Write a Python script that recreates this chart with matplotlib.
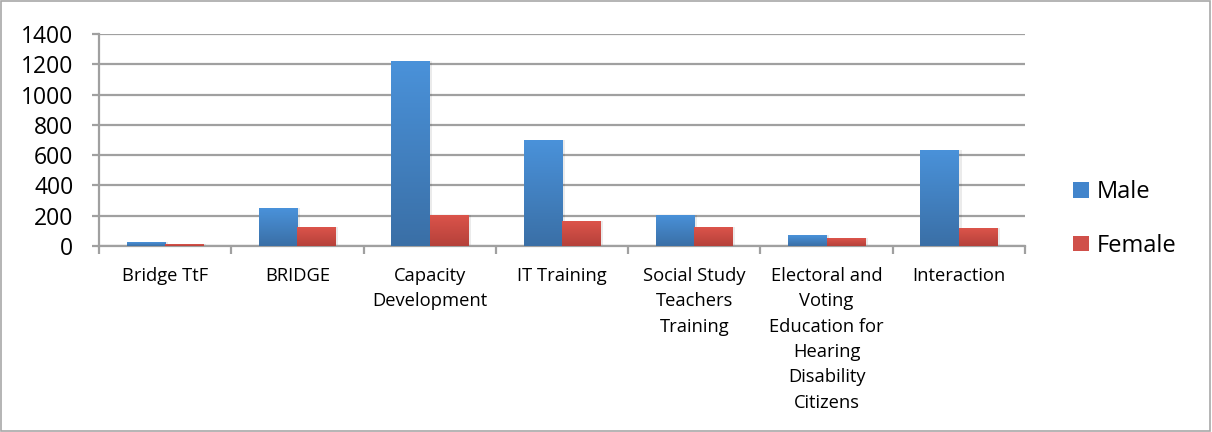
import matplotlib
matplotlib.use("Agg")
import matplotlib.pyplot as plt
import numpy as np
from matplotlib.colors import LinearSegmentedColormap
from matplotlib.patches import Rectangle, Patch

categories = ["Bridge TtF", "BRIDGE", "Capacity\nDevelopment", "IT Training",
              "Social Study\nTeachers\nTraining",
              "Electoral and\nVoting\nEducation for\nHearing\nDisability\nCitizens",
              "Interaction"]
male = [25, 250, 1225, 700, 205, 72, 635]
female = [12, 125, 205, 165, 125, 52, 118]
yticks = [0, 200, 400, 600, 800, 1000, 1200, 1400]

plt.rcParams['font.family'] = ['Open Sans', 'DejaVu Sans']

fig = plt.figure(figsize=(12.12, 4.32), dpi=100)
ax = fig.add_axes([99/1212, 1 - 246/432, (1025-99)/1212, (246-34)/432])

x = np.arange(len(categories))
w = 0.29
blue_cm = LinearSegmentedColormap.from_list("b", ["#3A6FA6", "#4A92DA"])
red_cm = LinearSegmentedColormap.from_list("r", ["#B5413A", "#DC544B"])
grad = np.linspace(0, 1, 256).reshape(-1, 1)

def gbar(xc, h, cmap):
    if h <= 0:
        return
    ax.add_patch(Rectangle((xc - w/2 + 0.02, 0), w, h, facecolor="#000000", alpha=0.08,
                           edgecolor="none", zorder=2))
    im = ax.imshow(grad, extent=(xc - w/2, xc + w/2, 0, h), origin="lower",
                   cmap=cmap, aspect="auto", zorder=3)
    rect = Rectangle((xc - w/2, 0), w, h, transform=ax.transData, facecolor="none", edgecolor="none")
    ax.add_patch(rect)
    im.set_clip_path(rect)

for i in range(len(categories)):
    gbar(x[i] - w/2, male[i], blue_cm)
    gbar(x[i] + w/2, female[i], red_cm)

ax.set_xlim(-0.5, len(categories) - 0.5)
ax.set_ylim(0, 1400)
ax.set_yticks(yticks)
ax.set_yticklabels([str(v) for v in yticks], fontsize=16.5)
ax.yaxis.grid(True, color="#A0A0A0", linewidth=1.6)
ax.set_axisbelow(True)
for s in ["top", "right"]:
    ax.spines[s].set_visible(False)
ax.spines["left"].set_color("#A0A0A0")
ax.spines["left"].set_linewidth(1.6)
ax.spines["bottom"].set_color("#A0A0A0")
ax.spines["bottom"].set_linewidth(1.6)
ax.tick_params(axis="y", length=5, width=1.6, color="#A0A0A0", pad=13.5)
ax.set_xticks(np.arange(-0.5, len(categories), 1.0))
ax.set_xticklabels([])
ax.tick_params(axis="x", length=6, width=1.6, color="#A0A0A0")
for i, c in enumerate(categories):
    ax.text(x[i], -0.1, c, transform=ax.get_xaxis_transform(), ha="center", va="top",
            fontsize=13.2, linespacing=1.52)

handles = [Patch(facecolor="#4285CC", label="Male"), Patch(facecolor="#D0504A", label="Female")]
fig.legend(handles=handles, loc="center left", bbox_to_anchor=(1052/1212, 1 - 219/432),
           frameon=False, fontsize=17, handlelength=0.65, handleheight=0.65,
           labelspacing=1.25, handletextpad=0.35)

fig.patches.append(Rectangle((0.001, 0.002), 0.997, 0.996, transform=fig.transFigure,
                             facecolor="none", edgecolor="#A8A8A8", linewidth=1.2))

fig.savefig("out.png", dpi=100)
